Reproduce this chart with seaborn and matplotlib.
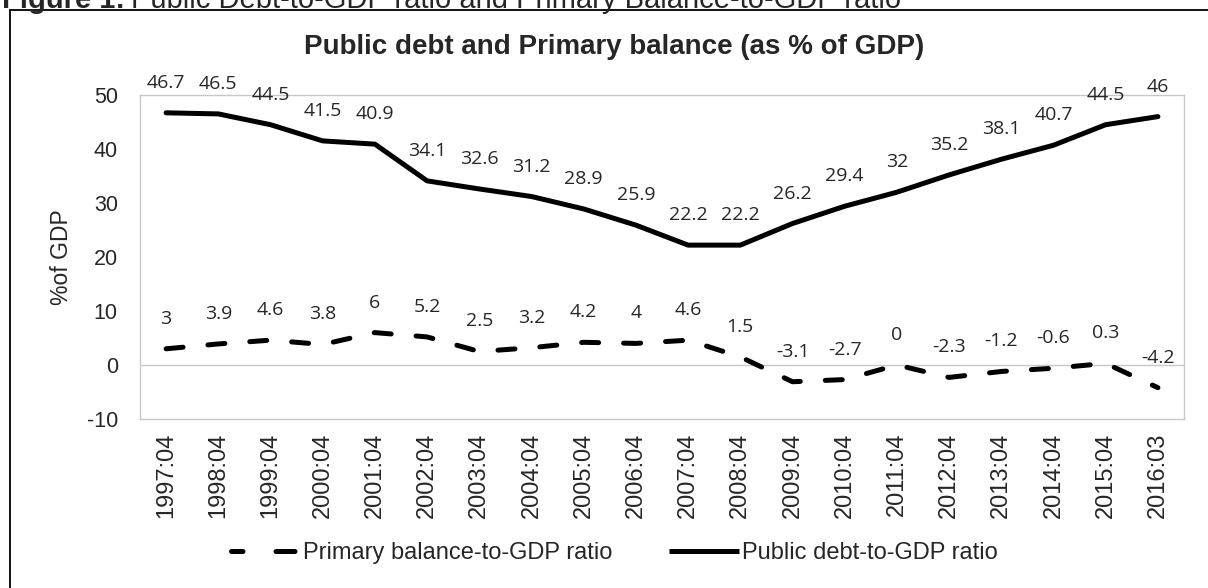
import matplotlib
matplotlib.use("Agg")
import matplotlib.pyplot as plt
from matplotlib.lines import Line2D
from matplotlib.patches import Rectangle
import seaborn as sns
import pandas as pd

# Quarterly observations (fiscal quarter end)
periods = ["1997:04", "1998:04", "1999:04", "2000:04", "2001:04", "2002:04",
           "2003:04", "2004:04", "2005:04", "2006:04", "2007:04", "2008:04",
           "2009:04", "2010:04", "2011:04", "2012:04", "2013:04", "2014:04",
           "2015:04", "2016:03"]
public_debt = [46.7, 46.5, 44.5, 41.5, 40.9, 34.1, 32.6, 31.2, 28.9, 25.9,
               22.2, 22.2, 26.2, 29.4, 32, 35.2, 38.1, 40.7, 44.5, 46]
primary_balance = [3, 3.9, 4.6, 3.8, 6, 5.2, 2.5, 3.2, 4.2, 4, 4.6, 1.5,
                   -3.1, -2.7, 0, -2.3, -1.2, -0.6, 0.3, -4.2]
y_ticks = [-10, 0, 10, 20, 30, 40, 50]

debt_name = "Public debt-to-GDP ratio"
balance_name = "Primary balance-to-GDP ratio"

sns.set_style("white")
plt.rcParams["font.family"] = ["Liberation Sans", "DejaVu Sans"]
plt.rcParams["axes.unicode_minus"] = False

df = pd.DataFrame({"period": periods, "debt": public_debt, "balance": primary_balance})

fig = plt.figure(figsize=(12.08, 5.88), dpi=100)
ax = fig.add_axes([140 / 1208, 1 - 419 / 588, 1044 / 1208, 324 / 588])

LW = 3.6
dash = (3.4, 5.0)
grid_col = "#C8C8C8"

sns.lineplot(data=df, x="period", y="debt", ax=ax, color="black", lw=LW,
             solid_capstyle="round", solid_joinstyle="round", sort=False)
sns.lineplot(data=df, x="period", y="balance", ax=ax, color="black", lw=LW,
             sort=False)
bal_line = ax.lines[-1]
bal_line.set_dashes(dash)
bal_line.set_dash_capstyle("round")

ax.set_xlim(-0.5, len(periods) - 0.5)
ax.set_ylim(-10, 50)
ax.set_yticks(y_ticks)
ax.axhline(0, color=grid_col, lw=1.0, zorder=0)
for s in ax.spines.values():
    s.set_color(grid_col)
    s.set_linewidth(1.0)

ax.tick_params(axis="y", length=0, pad=16, labelsize=15.5)
ax.tick_params(axis="x", length=0, pad=10, labelsize=17, rotation=90)
ax.set_xlabel("")
ax.set_ylabel("%of GDP", fontsize=16.5)
ax.yaxis.set_label_coords(-79 / 1044, 0.5)
ax.yaxis.label.set_verticalalignment("center")

# value labels above each point
label_font = dict(family=["Open Sans", "DejaVu Sans"], fontsize=14, ha="center", va="center")
for i, (d, b) in enumerate(zip(public_debt, primary_balance)):
    ax.annotate(f"{d:g}", (i, d), xytext=(0, 21.6), textcoords="offset points", **label_font)
    ax.annotate(f"{b:g}", (i, b), xytext=(0, 21.6), textcoords="offset points", **label_font)

fig.text(614 / 1208, 1 - 47 / 588, "Public debt and Primary balance (as % of GDP)",
         ha="center", va="center", fontsize=20, fontweight="bold")

handles = [
    Line2D([], [], color="black", lw=LW, linestyle=(1.5, (3.8, 6.6)), dash_capstyle="round"),
    Line2D([], [], color="black", lw=LW, solid_capstyle="butt"),
]
leg = fig.legend(handles, [balance_name, debt_name], loc="center",
                 bbox_to_anchor=(614 / 1208, 1 - 553 / 588), ncol=2, frameon=False,
                 handlelength=2.97, handletextpad=0.1, columnspacing=2.4,
                 prop=dict(size=17))

# outer frame and caption line
fig.patches.append(Rectangle((10 / 1208, -0.2), 1.5, 1.2 - 10 / 588,
                             transform=fig.transFigure, fill=False, ec="black", lw=1.3))
cap_y = 1 - 8 / 588
t1 = fig.text(2 / 1208, cap_y, "Figure 1:", fontsize=21, fontweight="bold", va="baseline")
fig.canvas.draw()
bb = t1.get_window_extent()
fig.text((bb.x1 + 6) / 1208, cap_y,
         "Public Debt-to-GDP ratio and Primary Balance-to-GDP ratio",
         fontsize=21, va="baseline")

fig.savefig("out.png", dpi=100)
